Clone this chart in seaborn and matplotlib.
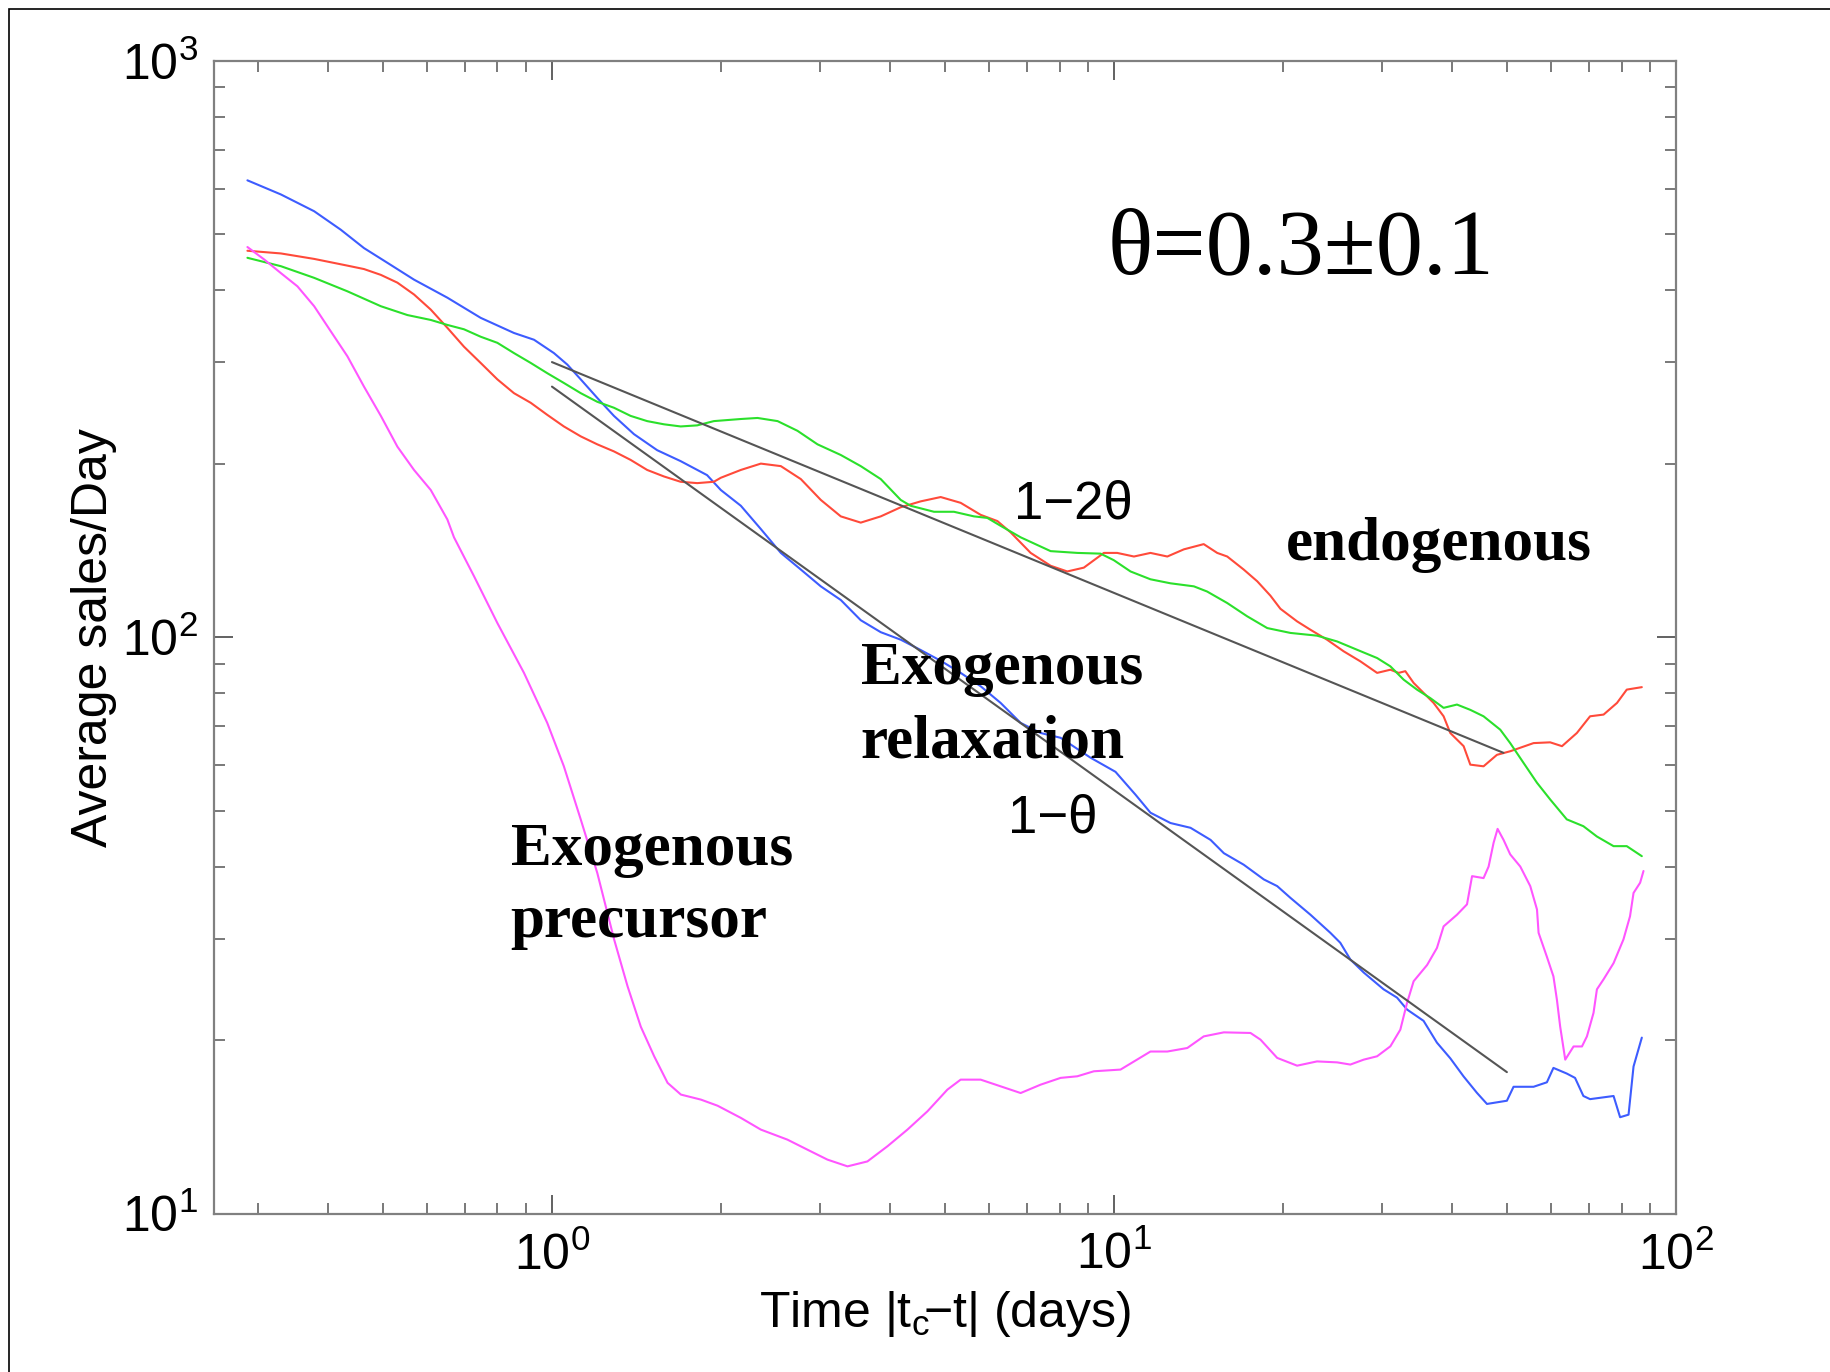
import numpy as np
import seaborn as sns
import matplotlib
matplotlib.use('Agg')
import matplotlib.pyplot as plt
from matplotlib.ticker import LogLocator, NullFormatter
from matplotlib.patches import Rectangle

# ---- data (days, sales/day) ----
blue_x = [0.2872, 0.3294, 0.3775, 0.4210, 0.4630, 0.5096, 0.5683, 0.6515, 0.7467, 0.8558,
          0.9291, 1.008, 1.065, 1.125, 1.204, 1.289, 1.399, 1.539, 1.694, 1.888,
          1.997, 2.168, 2.353, 2.554, 2.772, 3.008, 3.265, 3.543, 3.846, 4.173,
          4.529, 4.916, 5.335, 5.790, 6.284, 6.821, 7.402, 8.034, 9.08, 10.06,
          10.92, 11.61, 12.60, 13.68, 14.85, 15.68, 17.01, 18.47, 19.51, 20.60,
          22.36, 24.26, 25.27, 26.33, 27.81, 30.17, 31.88, 33.21, 35.54, 37.54,
          39.65, 41.87, 44.23, 46.08, 50.0, 51.38, 55.77, 58.9, 60.5, 63.9,
          66.1, 68.4, 70.3, 77.4, 79.5, 82.3, 84.0, 86.9]
blue_y = [620, 586, 548, 509, 473, 446, 417, 388, 358, 337,
          328, 311, 297, 280, 260, 242, 225, 211, 202, 191,
          180, 169, 154, 140, 131, 122.5, 116, 107, 102, 99,
          95, 91, 86.7, 82.2, 76.9, 71, 68.2, 66.9, 61.8, 58.4,
          53.3, 49.6, 47.6, 46.7, 44.5, 42.2, 40.3, 38.0, 37.0, 35.3,
          33.0, 30.7, 29.5, 27.6, 26.2, 24.5, 23.7, 22.6, 21.6, 19.8,
          18.6, 17.3, 16.2, 15.5, 15.7, 16.6, 16.6, 16.9, 17.9, 17.5,
          17.2, 16.0, 15.8, 16.0, 14.7, 14.85, 18.0, 20.2]

red_x = [0.2872, 0.3294, 0.3775, 0.4326, 0.4630, 0.4961, 0.5309, 0.5683, 0.6086, 0.6515,
         0.6974, 0.7467, 0.7996, 0.8558, 0.9166, 0.9809, 1.050, 1.125, 1.204, 1.289,
         1.380, 1.477, 1.582, 1.694, 1.813, 1.941, 1.997, 2.168, 2.353, 2.554,
         2.772, 3.008, 3.265, 3.543, 3.846, 4.173, 4.529, 4.916, 5.335, 5.790,
         6.200, 6.546, 7.107, 7.712, 8.257, 8.837, 9.592, 10.13, 10.85, 11.61,
         12.44, 13.31, 14.44, 15.26, 15.90, 17.01, 17.98, 18.98, 19.77, 21.17,
         22.36, 23.93, 25.62, 27.43, 29.38, 31.02, 32.09, 32.98, 34.12, 37.03,
         38.58, 39.65, 41.88, 43.04, 45.44, 48.0, 50.68, 55.77, 59.7, 62.66,
         66.6, 70.3, 74.3, 78.5, 81.7, 86.9]
red_y = [468, 463, 453, 441, 435, 425, 412, 393, 370, 344,
         319, 299, 280, 265, 255, 243, 232, 223, 216, 210,
         203, 195, 190, 186, 185, 186, 189, 195, 200, 198,
         188, 173, 162, 158, 162, 168, 172, 175, 171, 163,
         159, 152, 140, 133, 130, 132, 140, 140, 138, 140,
         138, 142, 145, 140, 138, 131, 125, 118, 112, 106.5,
         103, 99, 94.5, 90.8, 86.7, 87.8, 86.7, 87.3, 83.3, 76.9,
         72.9, 68.2, 64.7, 60.1, 59.7, 62.5, 63.4, 65.5, 65.7, 64.7,
         68.2, 72.9, 73.4, 76.9, 81.1, 81.9]

green_x = [0.2872, 0.3294, 0.3775, 0.4326, 0.4961, 0.5531, 0.6086, 0.6515, 0.6974, 0.7467,
           0.7996, 0.8558, 0.9166, 0.9809, 1.050, 1.125, 1.204, 1.289, 1.380, 1.477,
           1.582, 1.694, 1.813, 1.941, 2.168, 2.321, 2.520, 2.734, 2.968, 3.265,
           3.543, 3.846, 4.173, 4.347, 4.783, 5.190, 5.633, 5.951, 6.284, 6.821,
           7.712, 8.603, 9.462, 9.99, 10.70, 11.61, 12.60, 13.87, 14.64, 15.90,
           17.25, 18.73, 20.60, 22.97, 24.94, 27.06, 29.38, 31.02, 32.75, 34.59,
           36.53, 38.58, 40.75, 43.04, 45.44, 48.66, 50.68, 53.54, 56.56, 59.7,
           63.9, 68.4, 72.3, 77.4, 81.7, 86.9]
green_y = [455, 440, 420, 398, 375, 362, 355, 348, 342, 332,
           324, 311, 299, 287, 276, 265, 256, 250, 242, 237,
           234, 232, 233, 237, 239, 240, 237, 228, 216, 207,
           198, 188, 173, 169, 165, 165, 162, 161, 156, 149,
           141, 140, 139.6, 136, 130, 126, 124, 122.5, 120, 114.6,
           108.7, 103.7, 101.7, 100.6, 98.3, 95.1, 92.0, 89.0, 84.4, 81.1,
           78.4, 75.4, 76.4, 74.8, 72.9, 69.1, 65.5, 60.5, 55.9, 52.3,
           48.3, 47.0, 45.1, 43.4, 43.4, 41.7]

magenta_x = [0.2872, 0.3076, 0.3294, 0.3525, 0.3775, 0.4043, 0.4326, 0.4630, 0.4961, 0.5309,
             0.5683, 0.6086, 0.6515, 0.6694, 0.7268, 0.7996, 0.8917, 0.9809, 1.050, 1.125,
             1.204, 1.290, 1.363, 1.439, 1.520, 1.606, 1.696, 1.841, 1.971, 2.168,
             2.353, 2.624, 2.849, 3.091, 3.356, 3.641, 3.953, 4.290, 4.656, 5.052,
             5.335, 5.790, 6.284, 6.821, 7.402, 8.034, 8.603, 9.207, 10.27, 11.61,
             12.44, 13.50, 14.44, 15.68, 17.49, 18.22, 19.51, 21.17, 22.97, 24.94,
             26.33, 27.81, 29.38, 31.02, 32.31, 33.21, 34.12, 36.06, 37.54, 38.58,
             40.75, 42.46, 43.35, 45.44, 46.39, 47.35, 48.13, 49.32, 50.68, 52.82,
             55.02, 56.56, 56.93, 58.9, 60.5, 61.37, 62.2, 63.5, 65.7, 68.0,
             69.4, 71.3, 72.3, 74.3, 77.4, 80.6, 82.8, 84.0, 86.3, 87.5]
magenta_y = [475, 452, 428, 406, 375, 339, 307, 272, 242, 214,
             195, 180, 160, 149, 127.5, 105.8, 86.7, 71.0, 59.7, 48.3,
             39.0, 29.9, 24.8, 21.1, 18.75, 16.86, 16.09, 15.77, 15.39, 14.66,
             13.99, 13.44, 12.91, 12.41, 12.08, 12.32, 13.09, 13.99, 15.05, 16.41,
             17.08, 17.08, 16.63, 16.19, 16.74, 17.20, 17.31, 17.66, 17.78, 19.11,
             19.11, 19.38, 20.30, 20.63, 20.58, 20.04, 18.63, 18.06, 18.37, 18.30,
             18.14, 18.5, 18.75, 19.51, 20.85, 23.2, 25.3, 27.0, 28.9, 31.5,
             33.0, 34.4, 38.5, 38.2, 40.0, 44.0, 46.5, 44.5, 42.0, 40.0,
             37.0, 33.7, 30.7, 27.9, 25.8, 23.5, 21.1, 18.5, 19.5, 19.5,
             20.3, 22.3, 24.5, 25.5, 27.2, 29.9, 32.8, 36.0, 37.5, 39.3]

# power-law guides (slopes 1-2θ and 1-θ)
fit_endo_x = [1.0, 49.3]
fit_endo_y = [300, 63]
fit_exo_x = [1.0, 50.0]
fit_exo_y = [272, 17.6]

sns.set_theme(style='white')
plt.rcParams['font.family'] = ['Liberation Sans', 'DejaVu Sans']
plt.rcParams['mathtext.fontset'] = 'custom'
plt.rcParams['mathtext.rm'] = 'Liberation Sans'
plt.rcParams['mathtext.it'] = 'Liberation Sans:italic'
plt.rcParams['mathtext.bf'] = 'Liberation Sans:bold'
plt.rcParams['text.color'] = 'black'
plt.rcParams['axes.labelcolor'] = 'black'
plt.rcParams['xtick.labelcolor'] = 'black'
plt.rcParams['ytick.labelcolor'] = 'black'

fig = plt.figure(figsize=(18.3, 13.72), dpi=100)
ax = fig.add_axes([0.1167, 0.1154, 0.7992, 0.8404])

lw = 1.5
sns.lineplot(x=blue_x, y=blue_y, ax=ax, color='#3d5cff', linewidth=lw, sort=False, estimator=None)
sns.lineplot(x=red_x, y=red_y, ax=ax, color='#ff4a3a', linewidth=lw, sort=False, estimator=None)
sns.lineplot(x=green_x, y=green_y, ax=ax, color='#2be02b', linewidth=lw, sort=False, estimator=None)
sns.lineplot(x=magenta_x, y=magenta_y, ax=ax, color='#ff55ff', linewidth=lw, sort=False, estimator=None)
sns.lineplot(x=fit_endo_x, y=fit_endo_y, ax=ax, color='#555555', linewidth=lw, sort=False, estimator=None)
sns.lineplot(x=fit_exo_x, y=fit_exo_y, ax=ax, color='#555555', linewidth=lw, sort=False, estimator=None)

ax.set_xscale('log')
ax.set_yscale('log')
ax.set_xlim(0.25, 100)
ax.set_ylim(10, 1000)

for axis in (ax.xaxis, ax.yaxis):
    axis.set_major_locator(LogLocator(base=10, numticks=10))
    axis.set_minor_locator(LogLocator(base=10, subs=np.arange(2, 10), numticks=100))
    axis.set_minor_formatter(NullFormatter())

ax.tick_params(which='both', direction='in', bottom=True, left=True, top=True, right=True,
               color='#555555', labelcolor='black')
ax.tick_params(which='major', length=14, width=1.3, labelsize=36)
ax.tick_params(which='minor', length=8, width=1.1)
ax.tick_params(axis='x', which='major', pad=13)
ax.tick_params(axis='y', which='major', pad=11)

for sp in ax.spines.values():
    sp.set_color('#808080')
    sp.set_linewidth(1.6)

ax.set_xlabel('Time $\\mathregular{|t_{c}\\!{\u2212}t|}$ (days)', fontsize=36, color='black')
ax.xaxis.set_label_coords(0.5, -0.065)
ax.set_ylabel('Average sales/Day', fontsize=36, color='black')
ax.yaxis.set_label_coords(-0.066, 0.5)

serif = ['Liberation Serif', 'DejaVu Serif']
ax.text(21.5, 427, 'θ=0.3±0.1', fontsize=68, family=serif, color='black',
        ha='center', va='baseline')
ax.text(6.63, 160.6, '1−2θ', fontsize=38, color='black', ha='left', va='baseline')
ax.text(6.47, 45.8, '1−θ', fontsize=38, color='black', ha='left', va='baseline')
ax.text(20.18, 136.3, 'endogenous', fontsize=44, family=serif, weight='bold', color='black',
        ha='left', va='baseline')
ax.text(3.543, 82.97, 'Exogenous', fontsize=44, family=serif, weight='bold', color='black',
        ha='left', va='baseline')
ax.text(3.543, 61.8, 'relaxation', fontsize=44, family=serif, weight='bold', color='black',
        ha='left', va='baseline')
ax.text(0.8444, 40.3, 'Exogenous', fontsize=44, family=serif, weight='bold', color='black',
        ha='left', va='baseline')
ax.text(0.8444, 30.2, 'precursor', fontsize=44, family=serif, weight='bold', color='black',
        ha='left', va='baseline')

# thin outer frame of the original slide
fig.add_artist(Rectangle((9 / 1830, -0.1), 1.2, 1 - 9 / 1372 + 0.1, transform=fig.transFigure,
                         fill=False, edgecolor='black', linewidth=1.2, clip_on=False))

fig.savefig('out.png', dpi=100)
